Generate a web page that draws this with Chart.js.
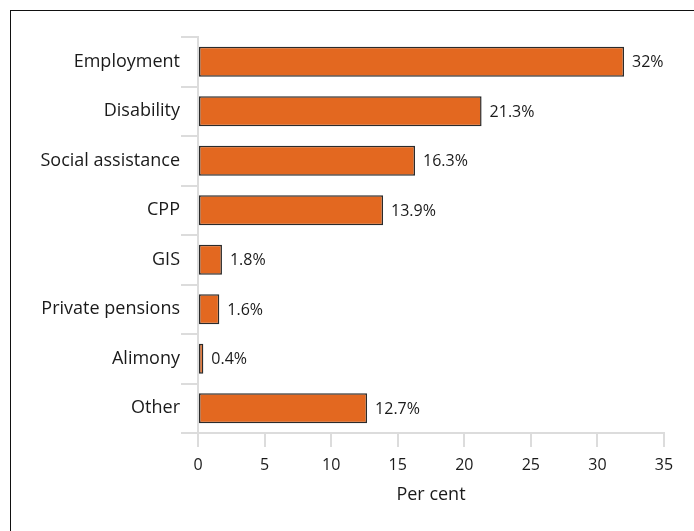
<!DOCTYPE html>
<html>
<head>
<meta charset="utf-8">
<script src="https://cdn.jsdelivr.net/npm/chart.js@4/dist/chart.umd.min.js"></script>
<style>
  html, body { margin: 0; padding: 0; background: #fff; overflow: hidden; }
  #wrap { position: relative; width: 694px; height: 531px; }
  #frame { position: absolute; left: 10px; top: 10px; width: 800px; height: 700px; border: 1.5px solid #111; box-sizing: border-box; }
  #c { position: absolute; left: 0; top: 0; }
</style>
</head>
<body>
<div id="wrap">
  <div id="frame"></div>
  <canvas id="c" width="694" height="531"></canvas>
</div>
<script>
// income sources, share in per cent
const categories = ['Employment', 'Disability', 'Social assistance', 'CPP', 'GIS', 'Private pensions', 'Alimony', 'Other'];
const shares = [32, 21.3, 16.3, 13.9, 1.8, 1.6, 0.4, 12.7];
const xTicks = [0, 5, 10, 15, 20, 25, 30, 35];

const FONT = 'Open Sans';
const AXIS_GREY = '#dcdcdc';
const TEXT = '#1a1a1a';

// writes "n%" just past the end of each bar
const valueLabels = {
  id: 'valueLabels',
  afterDatasetsDraw(chart) {
    const ctx = chart.ctx;
    const meta = chart.getDatasetMeta(0);
    ctx.save();
    ctx.font = '16px "' + FONT + '"';
    ctx.fillStyle = TEXT;
    ctx.textAlign = 'left';
    ctx.textBaseline = 'middle';
    meta.data.forEach((bar, i) => {
      ctx.fillText(shares[i] + '%', bar.x + 8, bar.y + 1);
    });
    ctx.restore();
  }
};

new Chart(document.getElementById('c').getContext('2d'), {
  type: 'bar',
  data: {
    labels: categories,
    datasets: [{
      data: shares,
      backgroundColor: '#E36820',
      borderColor: '#2b2b2b',
      borderWidth: 1.5,
      borderSkipped: false,
      barPercentage: 0.64,
      categoryPercentage: 0.95
    }]
  },
  options: {
    indexAxis: 'y',
    responsive: false,
    animation: false,
    layout: { padding: { left: 10, right: 30, top: 37, bottom: 0 } },
    plugins: { legend: { display: false }, tooltip: { enabled: false } },
    scales: {
      x: {
        min: 0,
        max: 35,
        afterBuildTicks(scale) { scale.ticks = xTicks.map((v) => ({ value: v })); },
        afterFit(scale) { scale.height = 98; },
        grid: { drawOnChartArea: false, color: AXIS_GREY, lineWidth: 2, tickLength: 14 },
        border: { color: AXIS_GREY, width: 2 },
        ticks: { font: { family: FONT, size: 16 }, color: TEXT, padding: 9 },
        title: { display: true, text: 'Per cent', font: { family: FONT, size: 18 }, color: TEXT, padding: { top: 4, bottom: 25 } }
      },
      y: {
        afterFit(scale) { scale.width = 188; },
        grid: { drawOnChartArea: false, offset: true, color: AXIS_GREY, lineWidth: 2, tickLength: 17 },
        border: { color: AXIS_GREY, width: 2 },
        ticks: { font: { family: FONT, size: 18 }, color: TEXT, padding: 1 }
      }
    }
  },
  plugins: [valueLabels]
});
</script>
</body>
</html>
